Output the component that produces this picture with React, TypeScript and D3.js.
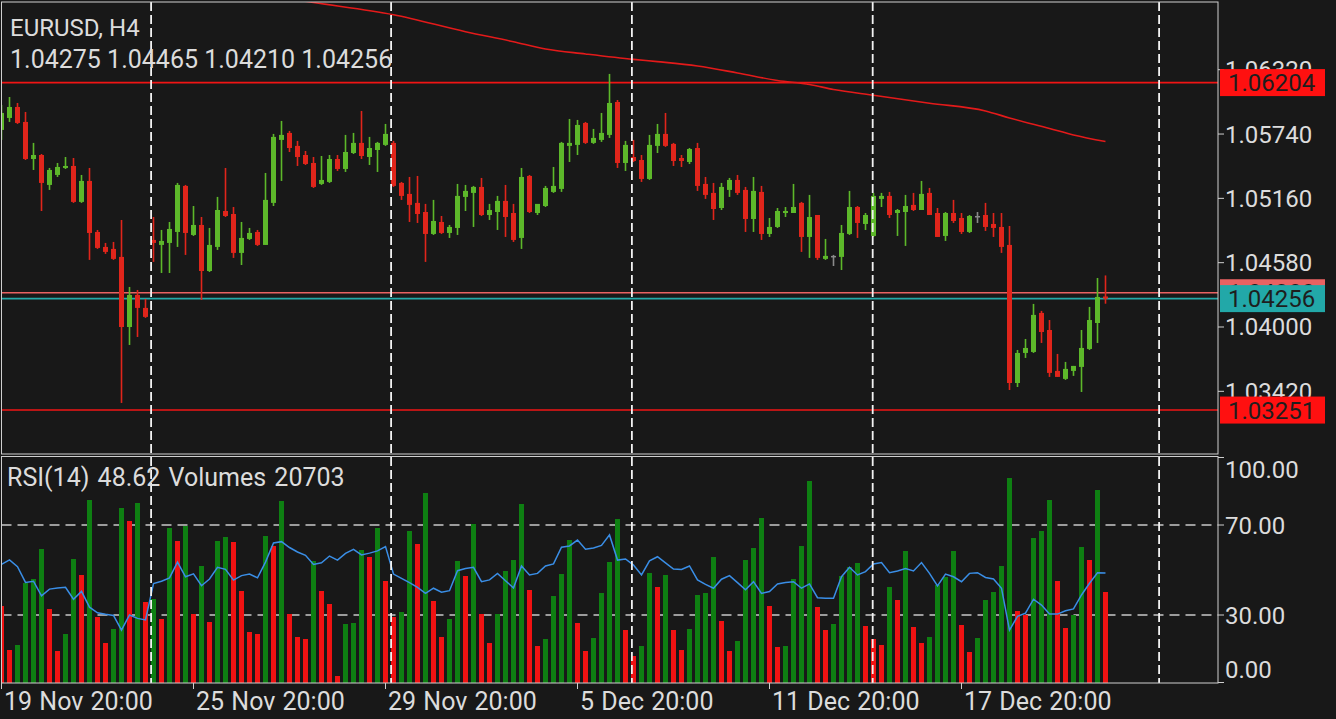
import React from 'react';
import * as d3 from 'd3';

const W = 1336;
const H = 719;

const symbol = 'EURUSD, H4';
const lastOHLC = ['1.04275', '1.04465', '1.04210', '1.04256'];

const opens = [
  1.05777, 1.05885, 1.05984, 1.05849, 1.05515, 1.05551, 1.05281, 1.05371, 1.05434, 1.05452,
  1.05128, 1.05317, 1.04857, 1.04722, 1.04704, 1.04632, 1.04000, 1.04289, 1.04172, 1.04785,
  1.04740, 1.04758, 1.04857, 1.05272, 1.04830, 1.04920, 1.04505, 1.04722, 1.05046, 1.05019,
  1.04668, 1.04794, 1.04857, 1.04740, 1.05119, 1.05687, 1.05750, 1.05633, 1.05551, 1.05479,
  1.05290, 1.05308, 1.05515, 1.05425, 1.05569, 1.05660, 1.05533, 1.05596, 1.05642, 1.05660,
  1.05299, 1.05200, 1.05119, 1.05037, 1.04839, 1.04947, 1.04848, 1.04893, 1.05173, 1.05209,
  1.05263, 1.05010, 1.05037, 1.05137, 1.05028, 1.04803, 1.05362, 1.05028, 1.05091, 1.05218,
  1.05245, 1.05633, 1.05642, 1.05840, 1.05660, 1.05687, 1.05732, 1.06029, 1.05479, 1.05533,
  1.05506, 1.05335, 1.05633, 1.05741, 1.05651, 1.05524, 1.05488, 1.05614, 1.05290, 1.05209,
  1.05073, 1.05236, 1.05326, 1.05236, 1.04974, 1.05218, 1.04839, 1.04902, 1.05028, 1.05028,
  1.05119, 1.04812, 1.05010, 1.04614, 1.04641, 1.04632, 1.04839, 1.05082, 1.04929, 1.04821,
  1.05155, 1.05182, 1.05028, 1.05037, 1.05101, 1.05055, 1.05209, 1.05028, 1.04821, 1.05028,
  1.04983, 1.04857, 1.05001, 1.05010, 1.04929, 1.04902, 1.04740, 1.03495, 1.03766, 1.03775,
  1.04127, 1.03973, 1.03604, 1.03532, 1.03604, 1.03640, 1.03802, 1.04036, 1.04275,
];
const highs = [
  1.06002, 1.06074, 1.06020, 1.05939, 1.05660, 1.05560, 1.05434, 1.05479, 1.05533, 1.05524,
  1.05371, 1.05434, 1.04875, 1.04758, 1.04767, 1.04965, 1.04361, 1.04334, 1.04253, 1.04992,
  1.04875, 1.04947, 1.05299, 1.05281, 1.05091, 1.04992, 1.04893, 1.05173, 1.05434, 1.05082,
  1.04947, 1.04893, 1.04875, 1.05389, 1.05741, 1.05858, 1.05768, 1.05678, 1.05587, 1.05533,
  1.05542, 1.05551, 1.05551, 1.05732, 1.05750, 1.05948, 1.05714, 1.05669, 1.05831, 1.05678,
  1.05308, 1.05353, 1.05362, 1.05110, 1.05146, 1.05001, 1.04920, 1.05290, 1.05281, 1.05272,
  1.05344, 1.05110, 1.05182, 1.05281, 1.05110, 1.05434, 1.05371, 1.05064, 1.05272, 1.05443,
  1.05669, 1.05876, 1.05867, 1.05849, 1.05786, 1.05930, 1.06282, 1.06047, 1.05678, 1.05687,
  1.05551, 1.05732, 1.05831, 1.05930, 1.05660, 1.05551, 1.05614, 1.05660, 1.05353, 1.05299,
  1.05299, 1.05344, 1.05371, 1.05263, 1.05353, 1.05272, 1.04983, 1.05073, 1.05082, 1.05290,
  1.05128, 1.05191, 1.05010, 1.04794, 1.04650, 1.04920, 1.05227, 1.05091, 1.05028, 1.05209,
  1.05209, 1.05218, 1.05064, 1.05191, 1.05209, 1.05317, 1.05254, 1.05073, 1.05037, 1.05146,
  1.05028, 1.05010, 1.05037, 1.05119, 1.05028, 1.05028, 1.04911, 1.03793, 1.03892, 1.04208,
  1.04145, 1.04063, 1.03757, 1.03685, 1.03649, 1.03973, 1.04181, 1.04442, 1.04465,
];
const lows = [
  1.05687, 1.05849, 1.05831, 1.05506, 1.05416, 1.05046, 1.05236, 1.05353, 1.05425, 1.05119,
  1.05119, 1.04605, 1.04704, 1.04659, 1.04605, 1.03315, 1.03838, 1.03910, 1.04082, 1.04587,
  1.04487, 1.04487, 1.04722, 1.04650, 1.04821, 1.04244, 1.04496, 1.04695, 1.04992, 1.04623,
  1.04559, 1.04785, 1.04731, 1.04740, 1.05091, 1.05317, 1.05578, 1.05452, 1.05461, 1.05254,
  1.05281, 1.05299, 1.05407, 1.05398, 1.05560, 1.05515, 1.05461, 1.05398, 1.05633, 1.05263,
  1.05146, 1.04947, 1.04938, 1.04587, 1.04830, 1.04839, 1.04803, 1.04830, 1.05046, 1.04902,
  1.05001, 1.04965, 1.04875, 1.04812, 1.04767, 1.04704, 1.05028, 1.05010, 1.05082, 1.05209,
  1.05218, 1.05488, 1.05551, 1.05651, 1.05651, 1.05669, 1.05705, 1.05434, 1.05407, 1.05488,
  1.05308, 1.05326, 1.05569, 1.05624, 1.05452, 1.05443, 1.05470, 1.05227, 1.05155, 1.04965,
  1.05055, 1.05173, 1.05191, 1.04857, 1.04857, 1.04785, 1.04812, 1.04893, 1.04992, 1.05028,
  1.04677, 1.04623, 1.04605, 1.04605, 1.04550, 1.04514, 1.04830, 1.04803, 1.04875, 1.04812,
  1.05082, 1.04983, 1.04821, 1.04731, 1.05046, 1.05055, 1.05010, 1.04812, 1.04776, 1.04938,
  1.04839, 1.04848, 1.04938, 1.04866, 1.04812, 1.04668, 1.03432, 1.03459, 1.03721, 1.03766,
  1.03856, 1.03550, 1.03550, 1.03523, 1.03559, 1.03414, 1.03793, 1.03856, 1.04210,
];
const closes = [
  1.05930, 1.05984, 1.05840, 1.05515, 1.05551, 1.05299, 1.05416, 1.05443, 1.05452, 1.05128,
  1.05317, 1.04848, 1.04713, 1.04677, 1.04614, 1.04000, 1.04289, 1.04172, 1.04091, 1.04758,
  1.04776, 1.04884, 1.05281, 1.04848, 1.04920, 1.04505, 1.04740, 1.05055, 1.05001, 1.04668,
  1.04803, 1.04848, 1.04740, 1.05146, 1.05714, 1.05732, 1.05614, 1.05533, 1.05470, 1.05263,
  1.05326, 1.05515, 1.05425, 1.05578, 1.05660, 1.05542, 1.05614, 1.05660, 1.05741, 1.05272,
  1.05182, 1.05101, 1.05019, 1.04839, 1.04956, 1.04848, 1.04902, 1.05182, 1.05227, 1.05263,
  1.05010, 1.05055, 1.05137, 1.04992, 1.04785, 1.05353, 1.05037, 1.05110, 1.05254, 1.05272,
  1.05660, 1.05660, 1.05822, 1.05660, 1.05705, 1.05750, 1.06020, 1.05479, 1.05642, 1.05497,
  1.05335, 1.05642, 1.05741, 1.05633, 1.05497, 1.05497, 1.05605, 1.05272, 1.05191, 1.05064,
  1.05263, 1.05326, 1.05209, 1.04974, 1.05227, 1.04839, 1.04902, 1.05046, 1.05046, 1.05082,
  1.04812, 1.04992, 1.04623, 1.04641, 1.04641, 1.04848, 1.05082, 1.04938, 1.05010, 1.05182,
  1.05182, 1.05010, 1.05055, 1.05091, 1.05055, 1.05200, 1.05010, 1.04812, 1.05028, 1.04956,
  1.04857, 1.05001, 1.05001, 1.04902, 1.04893, 1.04722, 1.03495, 1.03766, 1.03811, 1.04109,
  1.03955, 1.03586, 1.03550, 1.03622, 1.03649, 1.03811, 1.04063, 1.04271, 1.04256,
];
const volumes = [
  17518, 7508, 8645, 22750, 23660, 30485, 16835, 7280, 11148, 28210,
  24570, 41633, 15015, 9100, 12285, 39813, 36855, 40950, 18428, 19110,
  14560, 35263, 32305, 35718, 15698, 26618, 13878, 32305, 33215, 32078,
  20930, 11603, 11148, 33443, 31168, 41405, 15698, 10465, 10010, 27755,
  20930, 17973, 1593, 13423, 13650, 30258, 28665, 35263, 23205, 15015,
  16153, 34580, 31623, 43225, 18655, 10465, 14560, 27755, 24343, 36173,
  15698, 9100, 15698, 25480, 27983, 40723, 21158, 8418, 10010, 19793,
  24798, 32533, 13650, 7280, 10238, 20475, 27528, 37310, 12058, 6143,
  8418, 25025, 21840, 24570, 12058, 7508, 12285, 20020, 20475, 28665,
  14105, 7280, 9555, 27983, 30713, 37538, 17518, 8190, 8418, 23660,
  31168, 45955, 17290, 12058, 13423, 24343, 26390, 27300, 12968, 10010,
  8645, 21840, 18883, 30030, 12740, 9100, 10465, 22295, 24115, 30030,
  13195, 7053, 10238, 18883, 20703, 26618, 46638, 16380, 15470, 32988,
  34580, 41633, 23205, 12513, 15470, 30940, 27983, 43908, 20703,
];
const rsi = [
  52.5, 54.5, 51.5, 44.5, 45.0, 38.5, 41.5, 42.0, 42.3, 37.0,
  40.5, 33.5, 31.0, 30.3, 29.8, 23.3, 30.0, 28.5, 27.8, 44.0,
  45.0, 46.5, 53.5, 47.0, 48.3, 43.0, 46.0, 51.2, 50.3, 45.5,
  47.5, 48.2, 46.5, 53.5, 62.0, 62.6, 60.0, 58.0, 56.5, 52.5,
  53.2, 56.2, 54.4, 57.4, 59.2, 56.7, 57.5, 58.5, 60.4, 48.2,
  46.3, 44.4, 42.3, 39.6, 41.9, 40.1, 40.8, 49.7, 50.7, 51.2,
  44.8, 45.6, 48.5, 45.2, 42.0, 51.8, 47.8, 48.5, 51.8, 52.7,
  60.1, 60.7, 63.3, 59.2, 59.8, 60.9, 65.6, 54.4, 54.9, 52.2,
  47.8, 54.1, 55.9, 53.2, 50.4, 50.2, 51.8, 45.6, 43.6, 41.9,
  45.9, 47.5, 44.4, 41.2, 44.8, 39.6, 40.4, 43.8, 44.4, 44.8,
  41.9, 43.8, 37.7, 37.4, 37.4, 47.0, 51.2, 47.8, 49.3, 52.7,
  53.3, 48.8, 49.6, 50.7, 49.6, 53.3, 48.5, 42.9, 48.2, 47.0,
  44.8, 48.5, 48.8, 46.7, 46.0, 41.9, 23.3, 29.4, 30.8, 37.0,
  34.4, 30.4, 30.4, 31.9, 32.7, 38.9, 44.1, 48.8, 48.62,
];
const maIndex = [33, 39, 49, 58, 64, 68, 73, 79, 82, 87, 92, 97, 101, 104, 109, 116, 123, 126, 131, 134, 138];
const maValue = [
  1.06993, 1.06926, 1.06816, 1.06663, 1.06572, 1.06507, 1.06462, 1.06413, 1.06393, 1.06354,
  1.06291, 1.06223, 1.06187, 1.06142, 1.06090, 1.06018, 1.05948, 1.05885, 1.05790, 1.05732, 1.05673,
];
const priceTicks = [1.0632, 1.0574, 1.0516, 1.0458, 1.04, 1.0342];
const rsiTicks = [100, 70, 30, 0];
const rsiLevels = [70, 30];
const timeTickIndex = [0, 24, 48, 72, 96, 120];
const timeTickLabel = ['19 Nov 20:00', '25 Nov 20:00', '29 Nov 20:00', '5 Dec 20:00', '11 Dec 20:00', '17 Dec 20:00'];
const separatorIndex = [18.7, 48.7, 78.8, 108.9, 144.7];
const levelLines = [1.06204, 1.03251];
const bidPrice = 1.04256;
const askPrice = 1.04309;
const rsiValueText = '48.62';
const volumeValueText = '20703';

const BG = '#181818';
const TXT = '#dcdcdc';
const FRAME = '#cfcfcf';
const C_UP = '#5db82a';
const C_DN = '#e0251b';
const C_DOJI = '#8a8a8a';
const V_UP = '#0e7f12';
const V_DN = '#f01212';
const FONT = 'Roboto, "Noto Sans", sans-serif';

export default function App() {
  const n = closes.length;
  const plotL = 1.5;
  const plotR = 1218;
  const mainT = 2;
  const mainB = 454;
  const subT = 456.5;
  const subB = 683;

  const x = d3.scaleLinear().domain([0, 138]).range([1.5, 1105.5]);
  const y = d3.scaleLinear().domain([1.028638, 1.069306]).range([453, 2]);
  const yr = d3.scaleLinear().domain([0, 100]).range([682.5, 457.5]);
  const yv = d3.scaleLinear().domain([0, 51301]).range([683, 457.5]);

  const maLine = d3
    .line<number>()
    .x((_, k) => x(maIndex[k]))
    .y((v) => y(v))
    .curve(d3.curveMonotoneX)(maValue) as string;

  const rsiLine = d3
    .line<number>()
    .x((_, k) => x(k))
    .y((v) => yr(v))(rsi) as string;

  const idx = d3.range(n);
  const fmt = d3.format('.5f');
  const fmt2 = d3.format('.2f');

  const boxW = 105;
  const boxH = 27;
  const boxX = 1220;

  const priceBox = (p: number, fill: string, key: string) => {
    const cy = y(p);
    return (
      <g key={key}>
        <rect x={boxX} y={cy - boxH / 2} width={boxW} height={boxH} fill={fill} />
        <text x={boxX + 8} y={cy + 8.5} fill="#1e1e1e" fontSize={24} fontFamily={FONT}>
          {fmt(p)}
        </text>
      </g>
    );
  };

  return (
    <svg
      width={W}
      height={H}
      style={{ position: 'absolute', left: 0, top: 0, display: 'block' }}
      xmlns="http://www.w3.org/2000/svg"
    >
      <defs>
        <clipPath id="mainClip">
          <rect x={plotL} y={mainT} width={plotR - plotL} height={mainB - mainT} />
        </clipPath>
        <clipPath id="subClip">
          <rect x={plotL} y={subT} width={plotR - plotL} height={subB - subT} />
        </clipPath>
      </defs>
      <rect x={0} y={0} width={W} height={H} fill={BG} />

      {/* RSI level lines */}
      {rsiLevels.map((lv) => (
        <line
          key={'lv' + lv}
          x1={plotL}
          x2={plotR}
          y1={yr(lv)}
          y2={yr(lv)}
          stroke="#c8c8c8"
          strokeWidth={1.6}
          strokeDasharray="10,6"
        />
      ))}

      {/* volumes */}
      <g clipPath="url(#subClip)">
        {idx.map((i) => {
          const up = i > 0 && volumes[i] > volumes[i - 1];
          const top = yv(volumes[i]);
          return (
            <rect
              key={'v' + i}
              x={x(i) - 2.5}
              y={top}
              width={5}
              height={yv(0) - top}
              fill={up ? V_UP : V_DN}
            />
          );
        })}
        <path d={rsiLine} fill="none" stroke="#3a8ee6" strokeWidth={1.5} />
      </g>

      {/* main chart */}
      <g clipPath="url(#mainClip)">
        {levelLines.map((p) => (
          <line key={'ll' + p} x1={plotL} x2={plotR} y1={y(p)} y2={y(p)} stroke="#f01414" strokeWidth={1.6} />
        ))}
        <line x1={plotL} x2={plotR} y1={y(askPrice)} y2={y(askPrice)} stroke="#e86262" strokeWidth={1.6} />
        <line x1={plotL} x2={plotR} y1={y(bidPrice)} y2={y(bidPrice)} stroke="#22a8a8" strokeWidth={1.6} />
        {idx.map((i) => {
          const o = opens[i];
          const c = closes[i];
          const col = c > o ? C_UP : c < o ? C_DN : C_DOJI;
          const cx = x(i);
          const bt = y(Math.max(o, c));
          const bb = y(Math.min(o, c));
          return (
            <g key={'c' + i}>
              <rect x={cx - 0.8} y={y(highs[i])} width={1.6} height={y(lows[i]) - y(highs[i])} fill={col} />
              <rect x={cx - 2.5} y={bt} width={5} height={Math.max(1.5, bb - bt)} fill={col} />
            </g>
          );
        })}
        <path d={maLine} fill="none" stroke="#e31a1a" strokeWidth={1.6} />
      </g>

      {/* week separators */}
      {separatorIndex.map((s) => (
        <line
          key={'sep' + s}
          x1={x(s)}
          x2={x(s)}
          y1={mainT}
          y2={subB}
          stroke="#f2f2f2"
          strokeWidth={1.8}
          strokeDasharray="9,4"
        />
      ))}

      {/* frames */}
      <rect x={plotL} y={mainT} width={plotR - plotL} height={mainB - mainT} fill="none" stroke={FRAME} strokeWidth={1} />
      <rect x={plotL} y={subT} width={plotR - plotL} height={subB - subT} fill="none" stroke={FRAME} strokeWidth={1} />

      {/* price axis */}
      {priceTicks.map((p) => (
        <g key={'pt' + p}>
          <line x1={plotR} x2={plotR + 6} y1={y(p)} y2={y(p)} stroke={FRAME} strokeWidth={1} />
          <text x={1225} y={y(p) + 8.5} fill={TXT} fontSize={24} fontFamily={FONT}>
            {fmt(p)}
          </text>
        </g>
      ))}
      {priceBox(askPrice, '#e86262', 'ask')}
      {priceBox(bidPrice, '#22a8a8', 'bid')}
      {levelLines.map((p) => priceBox(p, '#ff1010', 'lb' + p))}

      {/* rsi axis */}
      {rsiTicks.map((t) => {
        const ty = yr(t);
        const ly = Math.min(Math.max(ty, subT + 13), subB - 14);
        return (
          <g key={'rt' + t}>
            <line x1={plotR} x2={plotR + 6} y1={ty} y2={ty} stroke={FRAME} strokeWidth={1} />
            <text x={1225} y={ly + 8.5} fill={TXT} fontSize={24} fontFamily={FONT}>
              {fmt2(t)}
            </text>
          </g>
        );
      })}

      {/* time axis */}
      {timeTickIndex.map((ti, k) => (
        <g key={'tt' + ti}>
          <line x1={x(ti)} x2={x(ti)} y1={subB} y2={subB + 6} stroke={FRAME} strokeWidth={1} />
          <text x={x(ti) + 2.5} y={710} fill={TXT} fontSize={25} fontFamily={FONT} wordSpacing={1}>
            {timeTickLabel[k]}
          </text>
        </g>
      ))}

      {/* headers */}
      <text x={10} y={36} fill={TXT} fontSize={24} fontFamily={FONT}>
        {symbol}
      </text>
      <text x={10} y={68} fill={TXT} fontSize={25} fontFamily={FONT}>
        {lastOHLC.join(' ')}
      </text>
      <text x={7} y={486} fill={TXT} fontSize={25} fontFamily={FONT} wordSpacing={2}>
        {`RSI(14) ${rsiValueText} Volumes ${volumeValueText}`}
      </text>
    </svg>
  );
}
